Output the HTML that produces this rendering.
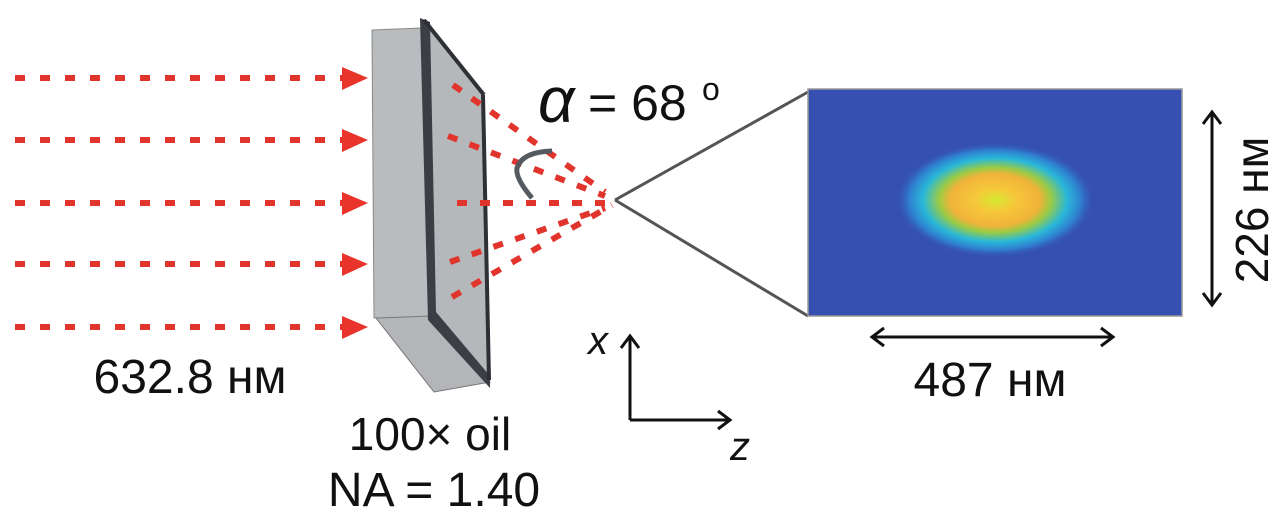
<!DOCTYPE html>
<html><head><meta charset="utf-8"><style>
html,body{margin:0;padding:0;background:#fff;}
svg{display:block;}
text{font-family:"Liberation Sans",sans-serif;fill:#111;}
</style></head><body>
<svg width="1280" height="518" viewBox="0 0 1280 518" xmlns="http://www.w3.org/2000/svg">
<defs>
<radialGradient id="spot" cx="0.5" cy="0.5" r="0.5">
<stop offset="0" stop-color="#d4e830"/>
<stop offset="0.2" stop-color="#f6c83a"/>
<stop offset="0.45" stop-color="#f0b33a"/>
<stop offset="0.56" stop-color="#9acb45"/>
<stop offset="0.72" stop-color="#29b8d8"/>
<stop offset="0.86" stop-color="#2f7fd0"/>
<stop offset="1" stop-color="#3550b0" stop-opacity="0"/>
</radialGradient>
</defs>
<g stroke="#e0342c" stroke-width="6" stroke-dasharray="10 15" fill="none">
<line x1="15" y1="78" x2="342" y2="78"/>
<line x1="15" y1="140" x2="342" y2="140"/>
<line x1="15" y1="203" x2="342" y2="203"/>
<line x1="15" y1="264" x2="342" y2="264"/>
<line x1="15" y1="327" x2="342" y2="327"/>
</g>
<g fill="#e8342a">
<polygon points="342,67 368,78 342,90"/>
<polygon points="342,129 368,140 342,152"/>
<polygon points="342,192 368,203 342,215"/>
<polygon points="342,253 368,264 342,276"/>
<polygon points="342,316 368,327 342,339"/>
</g>
<polygon points="372,30 422,28 430,318 374,318" fill="#b9bcbf" stroke="#888" stroke-width="1"/>
<polygon points="376,318 430,316 490,382 434,392" fill="#b3b5b8" stroke="#777" stroke-width="1"/>
<polygon points="428,26 482,95 488,380 434,312" fill="#b5b8bb"/>
<polygon points="420,18 430,22 436,312 490,376 490,388 428,320" fill="#3b3e45"/>
<line x1="424" y1="20" x2="484" y2="95" stroke="#2e3036" stroke-width="4"/>
<line x1="483" y1="95" x2="489" y2="380" stroke="#2e3036" stroke-width="4"/>
<g stroke="#e0342c" stroke-width="6" stroke-dasharray="10 13" fill="none">
<line x1="453" y1="85" x2="605" y2="192"/>
<line x1="448" y1="136" x2="605" y2="196"/>
<line x1="457" y1="203" x2="605" y2="203"/>
<line x1="450" y1="262" x2="605" y2="208"/>
<line x1="452" y1="297" x2="612" y2="205"/>
</g>
<path d="M532,198 Q515,178 517,168 Q522,152 552,151" stroke="#555a60" stroke-width="5" fill="none"/>
<line x1="615" y1="200" x2="808" y2="92" stroke="#555" stroke-width="3"/>
<line x1="615" y1="200" x2="808" y2="316" stroke="#555" stroke-width="3"/>
<rect x="808" y="89" width="374" height="227" fill="#3550b0" stroke="#999" stroke-width="1.5"/>
<ellipse cx="995" cy="200" rx="100" ry="58" fill="url(#spot)"/>
<text x="538" y="122" font-family="Liberation Serif,serif" font-style="italic" font-size="64">α</text>
<text x="588" y="120" font-size="50">= 68</text>
<text x="702" y="100" font-size="32">o</text>
<text x="190" y="393" font-size="48" text-anchor="middle">632.8 нм</text>
<text x="430" y="450" font-size="46" text-anchor="middle">100× oil</text>
<text x="434" y="506" font-size="48" text-anchor="middle">NA = 1.40</text>
<text x="990" y="396" font-size="48" text-anchor="middle">487 нм</text>
<text transform="translate(1268,210) rotate(-90)" font-size="46" text-anchor="middle">226 нм</text>
<g stroke="#111" stroke-width="3" fill="none">
<line x1="872" y1="337" x2="1113" y2="337"/>
<polyline points="884,328 872,337 884,346"/>
<polyline points="1101,328 1113,337 1101,346"/>
<line x1="1212" y1="112" x2="1212" y2="305"/>
<polyline points="1203,124 1212,112 1221,124"/>
<polyline points="1203,293 1212,305 1221,293"/>
<line x1="630" y1="420" x2="630" y2="336"/>
<polyline points="621,348 630,336 639,348"/>
<line x1="630" y1="420" x2="730" y2="420"/>
<polyline points="718,411 730,420 718,429"/>
</g>
<text x="588" y="354" font-size="40" font-style="italic">x</text>
<text x="730" y="460" font-size="40" font-style="italic">z</text>
</svg>
</body></html>
